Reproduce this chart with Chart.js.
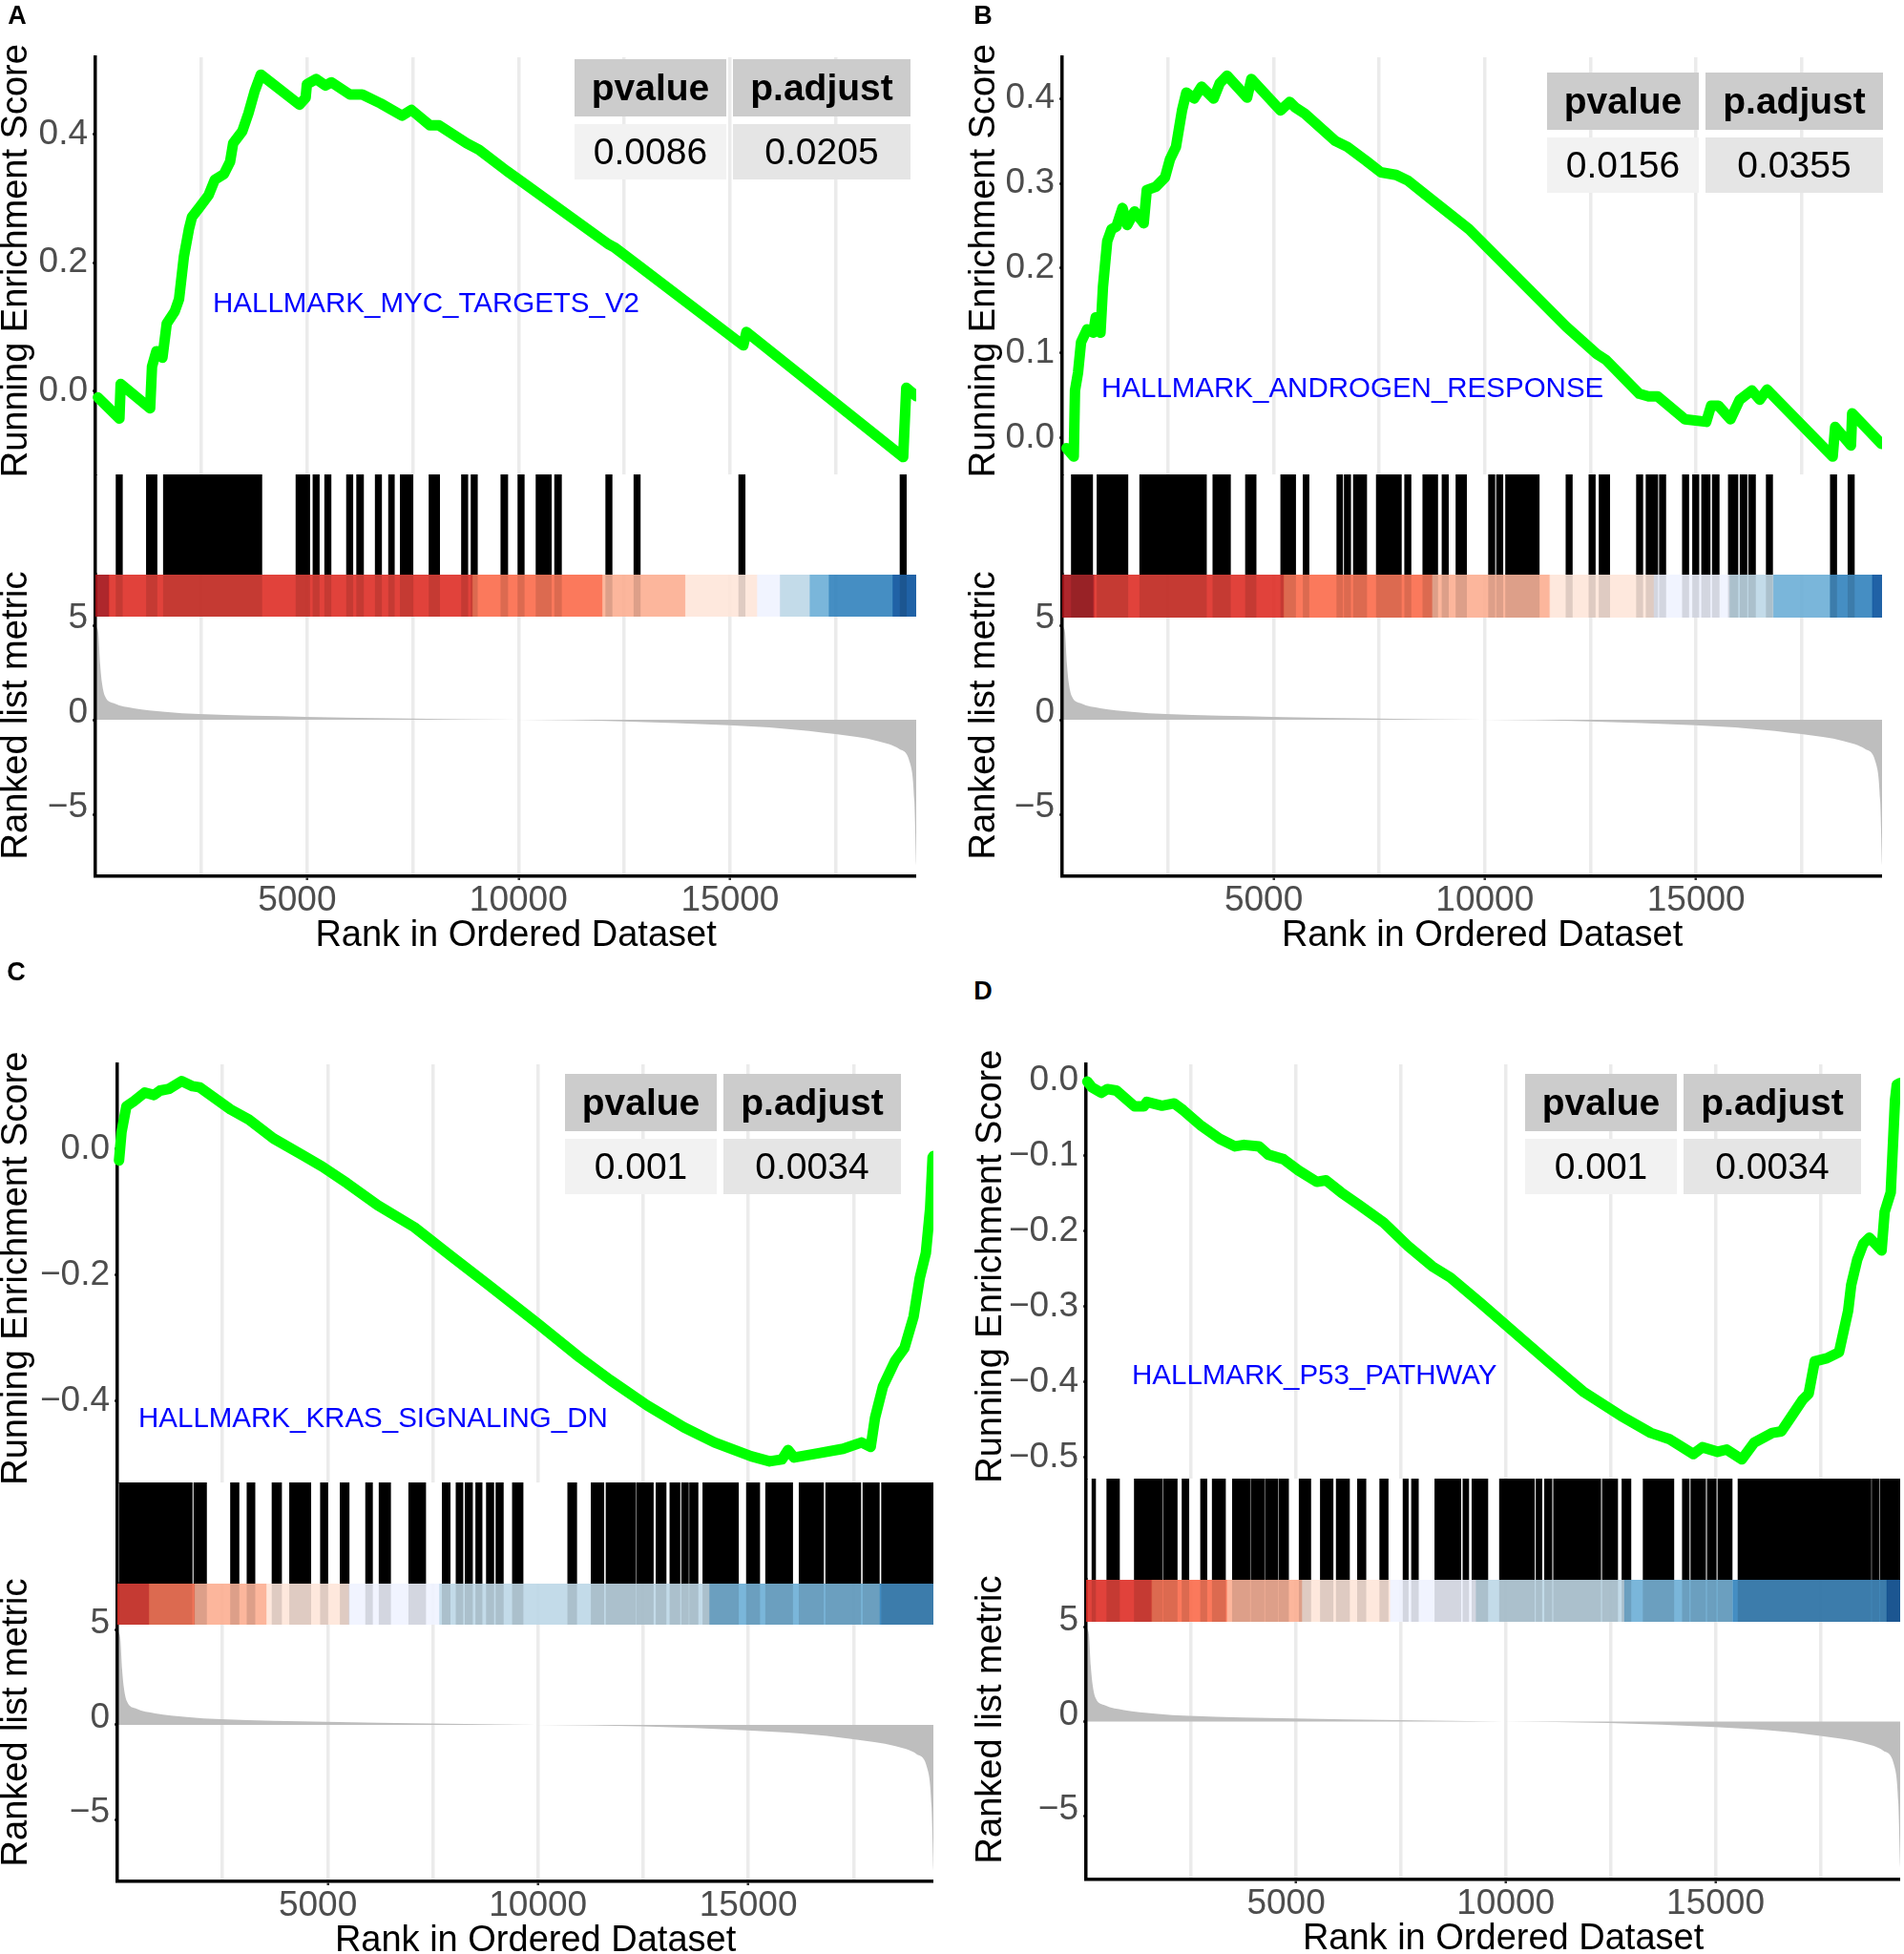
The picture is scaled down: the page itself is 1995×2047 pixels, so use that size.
<!DOCTYPE html>
<html>
<head>
<meta charset="utf-8">
<title>GSEA hallmark plots</title>
<script src="https://cdn.jsdelivr.net/npm/chart.js@4.4.1/dist/chart.umd.min.js"></script>
<style>
  html, body { margin: 0; padding: 0; background: #fff; }
  body { position: relative; width: 1995px; height: 2047px; overflow: hidden;
         font-family: 'Liberation Sans', Arial, Helvetica, sans-serif; }
  canvas { position: absolute; }
  .tag { position: absolute; font-size: 27px; font-weight: bold; color: #000;
         transform: translate(-50%, -50%); line-height: 1; }
  .geneset { position: absolute; font-size: 29.5px; color: #0000ff; white-space: nowrap;
             line-height: 1; transform: translateY(-50%); }
  .stats { position: absolute; display: grid; grid-template-columns: 159px 186px;
           grid-template-rows: 60px 58px; column-gap: 7px; row-gap: 8px; }
  .stats div { display: flex; align-items: center; justify-content: center; font-size: 39px; color: #000; }
  .stats .head { background: #cccccc; font-weight: bold; }
  .stats .v1 { background: #f2f2f2; }
  .stats .v2 { background: #e5e5e5; }
</style>
</head>
<body>
<script>
// ---- data ----
const N_GENES = 19400;
const GRID_BREAKS = [2500, 5000, 7500, 10000, 12500, 15000, 17500];
const LABEL_BREAKS = [5000, 10000, 15000];
const RANK_TICKS = [-5, 0, 5];

const panelTags = ['A', 'B', 'C', 'D'];
const geneSets = ['HALLMARK_MYC_TARGETS_V2', 'HALLMARK_ANDROGEN_RESPONSE', 'HALLMARK_KRAS_SIGNALING_DN', 'HALLMARK_P53_PATHWAY'];
const pValues = ['0.0086', '0.0156', '0.001', '0.001'];
const pAdjust = ['0.0205', '0.0355', '0.0034', '0.0034'];

// running enrichment score
const esRankA = [58, 567, 596, 1293, 1337, 1440, 1584, 1685, 1874, 1976, 2092, 2209, 2281, 2456, 2674, 2819, 3037, 3182, 3255, 3473, 3618, 3763, 3909, 4824, 4969, 4998, 5216, 5434, 5580, 6015, 6306, 6742, 7250, 7468, 7904, 8122, 8776, 9066, 9720, 10083, 12118, 12263, 12844, 15314, 15387, 19092, 19165, 19400];
const esScoreA = [-0.010, -0.043, 0.011, -0.027, 0.038, 0.062, 0.052, 0.105, 0.124, 0.143, 0.210, 0.252, 0.271, 0.286, 0.305, 0.329, 0.338, 0.357, 0.386, 0.405, 0.433, 0.467, 0.493, 0.446, 0.457, 0.478, 0.486, 0.476, 0.481, 0.462, 0.462, 0.448, 0.429, 0.438, 0.414, 0.414, 0.386, 0.376, 0.343, 0.326, 0.229, 0.224, 0.195, 0.071, 0.092, -0.103, 0.005, -0.008];
const esTicksA = [0, 0.2, 0.4];

const esRankB = [100, 273, 302, 374, 446, 590, 734, 791, 906, 964, 1065, 1166, 1281, 1425, 1540, 1712, 1928, 2000, 2216, 2432, 2547, 2691, 2835, 2936, 3123, 3295, 3583, 3727, 3900, 4375, 4475, 5166, 5382, 5526, 5742, 6461, 6749, 7181, 7540, 7900, 8188, 8764, 9627, 11210, 11930, 12650, 12866, 13657, 13873, 14089, 14736, 15240, 15355, 15527, 15815, 16031, 16319, 16506, 16678, 18232, 18290, 18664, 18693, 19383];
const esScoreB = [-0.012, -0.022, 0.056, 0.077, 0.113, 0.128, 0.124, 0.142, 0.124, 0.178, 0.232, 0.246, 0.249, 0.271, 0.251, 0.267, 0.253, 0.292, 0.296, 0.307, 0.328, 0.343, 0.386, 0.407, 0.400, 0.414, 0.400, 0.418, 0.427, 0.401, 0.423, 0.386, 0.396, 0.389, 0.382, 0.350, 0.343, 0.327, 0.313, 0.310, 0.303, 0.280, 0.246, 0.167, 0.131, 0.099, 0.092, 0.052, 0.049, 0.049, 0.022, 0.019, 0.038, 0.038, 0.022, 0.045, 0.056, 0.045, 0.057, -0.022, 0.013, -0.009, 0.029, -0.007];
const esTicksB = [0, 0.1, 0.2, 0.3, 0.4];

const esRankC = [39, 98, 214, 389, 651, 870, 1015, 1234, 1525, 1787, 1962, 2690, 3127, 3710, 4438, 4875, 5457, 6186, 7060, 7934, 8808, 9973, 10992, 11721, 12594, 13468, 14196, 15070, 15507, 15798, 15944, 16089, 16672, 17254, 17691, 17910, 18012, 18201, 18492, 18711, 18930, 19075, 19221, 19323, 19381, 19400];
const esScoreC = [-0.018, 0.027, 0.068, 0.076, 0.090, 0.086, 0.093, 0.096, 0.108, 0.100, 0.098, 0.063, 0.047, 0.017, -0.011, -0.028, -0.054, -0.089, -0.124, -0.170, -0.215, -0.276, -0.331, -0.367, -0.407, -0.442, -0.466, -0.488, -0.496, -0.493, -0.478, -0.490, -0.483, -0.476, -0.466, -0.473, -0.427, -0.377, -0.336, -0.316, -0.266, -0.205, -0.165, -0.094, -0.013, -0.011];
const esTicksC = [-0.4, -0.2, 0];

const esRankD = [29, 145, 362, 506, 723, 1158, 1375, 1447, 1809, 2098, 2315, 2749, 3183, 3545, 3762, 4124, 4341, 4703, 5065, 5499, 5716, 6077, 6512, 7090, 7669, 8248, 8682, 9406, 10129, 11000, 11865, 12734, 13457, 13891, 14470, 14687, 15049, 15266, 15628, 15917, 16351, 16568, 16785, 17075, 17219, 17364, 17653, 17942, 18160, 18232, 18377, 18522, 18666, 18957, 19030, 19175, 19276, 19320, 19400];
const esScoreD = [-0.002, -0.010, -0.017, -0.012, -0.014, -0.035, -0.035, -0.029, -0.034, -0.031, -0.040, -0.061, -0.078, -0.088, -0.086, -0.088, -0.099, -0.105, -0.120, -0.135, -0.133, -0.149, -0.166, -0.189, -0.220, -0.247, -0.262, -0.296, -0.331, -0.373, -0.414, -0.445, -0.468, -0.476, -0.496, -0.487, -0.493, -0.490, -0.503, -0.481, -0.468, -0.466, -0.448, -0.424, -0.416, -0.373, -0.369, -0.361, -0.306, -0.272, -0.238, -0.217, -0.209, -0.226, -0.175, -0.149, -0.027, -0.006, -0.004];
const esTicksD = [-0.5, -0.4, -0.3, -0.2, -0.1, 0];

// gene hits, as [first rank, last rank] runs
const hitsA = [[487, 638], [1204, 1456], [1606, 3934], [4739, 5066], [5141, 5292], [5418, 5569], [5934, 6085], [6173, 6337], [6613, 6764], [6928, 7066], [7204, 7506], [7884, 8136], [8651, 8802], [8878, 9029], [9582, 9746], [9984, 10136], [10413, 10777], [10853, 11016], [12061, 12212], [12727, 12878], [15205, 15356], [19017, 19168]];
const hitsB = [[215, 720], [822, 1555], [1833, 3413], [3564, 3982], [4336, 4588], [5170, 5524], [5700, 5840], [6497, 6636], [6674, 6826], [6889, 7205], [7432, 8026], [8102, 8254], [8532, 8886], [8987, 9139], [9316, 9568], [10087, 10238], [10276, 10428], [10491, 11288], [11920, 12071], [12463, 12615], [12703, 12956], [13588, 13739], [13815, 14094], [14131, 14283], [14675, 14827], [14915, 15067], [15130, 15332], [15383, 15547], [15762, 15990], [16040, 16204], [16242, 16406], [16659, 16811], [18176, 18328], [18593, 18745]];
const hitsC = [[47, 1779], [1817, 2120], [2689, 2892], [3081, 3271], [3676, 3904], [4093, 4599], [4827, 5004], [5295, 5510], [5901, 6066], [6221, 6496], [6926, 7330], [7722, 7912], [8051, 8216], [8267, 8443], [8519, 8671], [8772, 8949], [8999, 9176], [9391, 9645], [10706, 10921], [11263, 11566], [11617, 12325], [12350, 12742], [12806, 13046], [13135, 13375], [13413, 13577], [13603, 13805], [13918, 14766], [14955, 15271], [15411, 16055], [16207, 16789], [16839, 17674], [17724, 18116], [18167, 19400]];
const hitsD = [[139, 227], [493, 796], [1149, 1819], [1844, 2172], [2286, 2450], [2728, 2880], [3006, 3322], [3486, 3903], [3928, 4244], [4269, 4572], [4597, 4825], [5077, 5355], [5582, 5886], [5961, 6277], [6467, 6669], [6997, 7199], [7553, 7679], [7755, 7919], [8310, 8930], [8980, 9119], [9195, 9574], [9851, 10685], [10723, 10862], [10925, 11102], [11140, 12264], [12302, 12668], [12769, 12984], [13274, 14007], [14209, 14373], [14411, 14764], [14802, 15017], [15055, 15396], [15535, 18705], [18730, 18894], [18920, 19400]];

// colour band: bin edges (rank) and palette bin of each segment
const bandEdgesA = [0, 323, 8915, 11985, 13947, 15646, 16187, 16891, 17344, 18853, 19400];
const bandBinsA = [0, 1, 2, 3, 4, 5, 6, 7, 8, 9];
const bandEdgesB = [0, 758, 5245, 8760, 11540, 14005, 15800, 16836, 18176, 19175, 19400];
const bandBinsB = [0, 1, 2, 3, 4, 5, 6, 7, 8, 9];
const bandEdgesC = [0, 755, 1842, 3550, 5510, 7660, 14083, 18130, 19400];
const bandBinsC = [1, 2, 3, 4, 5, 6, 7, 8];
const bandEdgesD = [0, 1566, 3360, 5153, 7250, 9296, 12832, 15421, 19084, 19400];
const bandBinsD = [1, 2, 3, 4, 5, 6, 7, 8, 9];

// ranked list metric (same ranking in every panel)
const metricRank = [1, 40, 68, 113, 158, 226, 451, 902, 1647, 2459, 4963, 7430, 9947, 12463, 14979, 16237, 17495, 18500, 19005, 19256, 19357, 19400];
const metricValue = [5.0, 4.85, 4.6, 2.9, 1.9, 1.25, 0.86, 0.61, 0.42, 0.30, 0.16, 0.07, 0.0, -0.08, -0.29, -0.46, -0.76, -1.13, -1.55, -2.31, -4.33, -7.7];

// ---- styling / layout ----
const BAND_COLORS = ['#A50F15', '#DE2D26', '#FB6A4A', '#FCAE91', '#FEE5D9', '#EFF3FF', '#BDD7E7', '#6BAED6', '#3182BD', '#08519C'];
const GREEN = '#00ff00';
const GRID = '#ebebeb';
const TICK_TEXT = '#4d4d4d';
const TITLE_OVERHANG = 30;   // room for the long y titles beyond their panels
const X_AXIS_HEIGHT = 85;
const TITLE_SIZE = 38;

const LAYOUT = [
  { left: 100, right: 960, top: 60, hitsTop: 497, bandTop: 602, bandBottom: 646, axisY: 918, titleX: 18,
    esMin: -0.130, esMax: 0.520, rankMin: -8.28, rankMax: 7.68, tag: [18, 16], label: [223, 317], table: [602, 62] },
  { left: 1113, right: 1972, top: 60, hitsTop: 497, bandTop: 602, bandBottom: 647, axisY: 918, titleX: 1032,
    esMin: -0.043, esMax: 0.4486, rankMin: -8.28, rankMax: 7.68, tag: [1030, 16], label: [1154, 406], table: [1621, 76] },
  { left: 123, right: 978, top: 1115, hitsTop: 1553, bandTop: 1659, bandBottom: 1702, axisY: 1971, titleX: 18,
    esMin: -0.5295, esMax: 0.1347, rankMin: -8.28, rankMax: 7.47, tag: [17, 1018], label: [145, 1485], table: [592, 1125] },
  { left: 1138, right: 1991, top: 1115, hitsTop: 1549, bandTop: 1655, bandBottom: 1699, axisY: 1969, titleX: 1039,
    esMin: -0.5286, esMax: 0.0208, rankMin: -8.36, rankMax: 7.5, tag: [1030, 1038], label: [1186, 1440], table: [1598, 1125] }
];

const PANELS = [
  { rank: esRankA, score: esScoreA, ticks: esTicksA, hits: hitsA, edges: bandEdgesA, bins: bandBinsA },
  { rank: esRankB, score: esScoreB, ticks: esTicksB, hits: hitsB, edges: bandEdgesB, bins: bandBinsB },
  { rank: esRankC, score: esScoreC, ticks: esTicksC, hits: hitsC, edges: bandEdgesC, bins: bandBinsC },
  { rank: esRankD, score: esScoreD, ticks: esTicksD, hits: hitsD, edges: bandEdgesD, bins: bandBinsD }
];

Chart.defaults.font.family = "'Liberation Sans', Arial, Helvetica, sans-serif";

function withAlpha(hex, a) {
  const n = parseInt(hex.slice(1), 16);
  return `rgba(${n >> 16},${(n >> 8) & 255},${n & 255},${a})`;
}

function minus(v, digits) {
  if (Math.abs(v) < 1e-9) return (0).toFixed(digits);
  return (v < 0 ? '\u2212' : '') + Math.abs(v).toFixed(digits);
}

// R pads the shorter break label, which pulls it a little to the left
function rankLabel(v) {
  if (!LABEL_BREAKS.includes(v)) return '';
  return v < 10000 ? v + '  ' : String(v);
}

function gridTicks(scale) {
  scale.ticks = GRID_BREAKS.map(v => ({ value: v }));
}

// fixed y-axis width, and no extra room reserved for the end labels
function fixedWidth(w) {
  return s => {
    s.width = w;
    s.paddingTop = 0;
    s.paddingBottom = 0;
  };
}

function placeCanvas(x, y, w, h) {
  const c = document.createElement('canvas');
  c.width = Math.round(w);
  c.height = Math.round(h);
  c.style.left = x + 'px';
  c.style.top = y + 'px';
  c.style.width = Math.round(w) + 'px';
  c.style.height = Math.round(h) + 'px';
  document.body.appendChild(c);
  return c;
}

function baseOptions(padding) {
  return {
    responsive: false,
    animation: false,
    events: [],
    layout: { padding: padding || 0 },
    plugins: { legend: { display: false }, tooltip: { enabled: false } }
  };
}

function yTitle(text) {
  return { display: true, text: text, color: '#000', font: { size: TITLE_SIZE }, padding: 0 };
}

function drawPanel(p, box, idx) {
  const x0 = Math.round(box.titleX - 23);
  const axisW = box.left - x0;
  const fullW = box.right - x0;

  // running enrichment score
  const esCanvas = placeCanvas(x0, box.top - TITLE_OVERHANG, fullW, box.hitsTop - box.top + 2 * TITLE_OVERHANG);
  new Chart(esCanvas, {
    type: 'line',
    data: {
      datasets: [{
        data: p.rank.map((x, k) => ({ x: x, y: p.score[k] })),
        borderColor: GREEN,
        borderWidth: 11,
        borderJoinStyle: 'round',
        borderCapStyle: 'round',
        pointRadius: 0,
        tension: 0,
        clip: false
      }]
    },
    options: Object.assign(baseOptions({ top: TITLE_OVERHANG, bottom: TITLE_OVERHANG }), {
      scales: {
        x: {
          type: 'linear', min: 0, max: N_GENES,
          afterBuildTicks: gridTicks,
          afterFit: s => { s.height = 0; s.paddingLeft = 0; s.paddingRight = 0; },
          ticks: { display: false },
          grid: { color: GRID, lineWidth: 3.5, drawTicks: false },
          border: { display: false }
        },
        y: {
          min: box.esMin, max: box.esMax,
          afterBuildTicks: s => { s.ticks = p.ticks.map(v => ({ value: v })); },
          afterFit: fixedWidth(axisW),
          ticks: { color: TICK_TEXT, font: { size: 37 }, padding: 5, callback: v => minus(v, 1) },
          grid: { drawOnChartArea: false, tickLength: 3, tickWidth: 2.5, tickColor: '#333' },
          border: { color: '#000', width: 3.5 },
          title: yTitle(' Running Enrichment Score')
        }
      }
    })
  });

  // hit marks
  const hitCanvas = placeCanvas(x0, box.hitsTop, fullW, box.bandTop - box.hitsTop);
  new Chart(hitCanvas, {
    type: 'bar',
    data: {
      labels: ['hit'],
      datasets: [{
        data: p.hits.map(h => ({ x: h, y: 'hit' })),
        backgroundColor: '#000',
        borderWidth: 0,
        barPercentage: 1,
        categoryPercentage: 1
      }]
    },
    options: Object.assign(baseOptions(), {
      indexAxis: 'y',
      scales: {
        x: { type: 'linear', min: 0, max: N_GENES, display: false },
        y: {
          afterFit: fixedWidth(axisW),
          ticks: { display: false },
          grid: { display: false },
          border: { color: '#000', width: 3.5 }
        }
      }
    })
  });

  // ranked list metric (its box starts at the colour band)
  const rankCanvas = placeCanvas(x0, box.bandTop - TITLE_OVERHANG, fullW,
    box.axisY - box.bandTop + X_AXIS_HEIGHT + TITLE_OVERHANG);
  new Chart(rankCanvas, {
    type: 'line',
    data: {
      datasets: [{
        data: metricRank.map((x, k) => ({ x: x, y: metricValue[k] })),
        fill: 'origin',
        backgroundColor: '#bebebe',
        borderColor: '#bebebe',
        borderWidth: 0,
        pointRadius: 0,
        cubicInterpolationMode: 'monotone'
      }]
    },
    options: Object.assign(baseOptions({ top: TITLE_OVERHANG }), {
      scales: {
        x: {
          type: 'linear', min: 0, max: N_GENES,
          afterBuildTicks: gridTicks,
          afterFit: s => { s.height = X_AXIS_HEIGHT; s.paddingLeft = 0; s.paddingRight = 0; },
          ticks: {
            autoSkip: false, maxRotation: 0, padding: 0, color: TICK_TEXT, font: { size: 37 },
            callback: rankLabel
          },
          grid: {
            color: GRID, lineWidth: 3.5, tickLength: 4, tickWidth: 2.5,
            tickColor: ctx => (ctx.tick && LABEL_BREAKS.includes(ctx.tick.value) ? '#333' : 'rgba(0,0,0,0)')
          },
          border: { color: '#000', width: 3.5, z: 1 },
          title: { display: true, text: '  Rank in Ordered Dataset', color: '#000', font: { size: TITLE_SIZE }, padding: 0 }
        },
        y: {
          min: box.rankMin, max: box.rankMax,
          afterBuildTicks: s => { s.ticks = RANK_TICKS.map(v => ({ value: v })); },
          afterFit: fixedWidth(axisW),
          ticks: { color: TICK_TEXT, font: { size: 37 }, padding: 5, labelOffset: -7, callback: v => minus(v, 0) },
          grid: { drawOnChartArea: false, tickLength: 3, tickWidth: 2.5, tickColor: '#333' },
          border: { color: '#000', width: 3.5, z: 1 },
          title: yTitle('  Ranked list metric')
        }
      }
    })
  });

  // colour band, laid over the top of the ranked panel
  const bandSegments = p.bins.map((b, k) => ({ x: [p.edges[k], p.edges[k + 1]], y: 'band' }));
  const bandCanvas = placeCanvas(x0, box.bandTop, fullW, box.bandBottom - box.bandTop);
  new Chart(bandCanvas, {
    type: 'bar',
    data: {
      labels: ['band'],
      datasets: [
        {
          data: p.hits.map(h => ({ x: h, y: 'band' })),
          backgroundColor: 'rgba(0,0,0,0.12)',
          borderWidth: 0, barPercentage: 1, categoryPercentage: 1, grouped: false, order: 0
        },
        {
          data: bandSegments,
          backgroundColor: p.bins.map(b => withAlpha(BAND_COLORS[b], 0.9)),
          borderWidth: 0, barPercentage: 1, categoryPercentage: 1, grouped: false, order: 1
        }
      ]
    },
    options: Object.assign(baseOptions(), {
      indexAxis: 'y',
      scales: {
        x: { type: 'linear', min: 0, max: N_GENES, display: false },
        y: {
          afterFit: fixedWidth(axisW),
          ticks: { display: false },
          grid: { display: false },
          border: { color: '#000', width: 3.5 }
        }
      }
    })
  });

  // text: panel tag, gene set name, p-value table
  const tag = document.createElement('div');
  tag.className = 'tag';
  tag.textContent = panelTags[idx];
  tag.style.left = box.tag[0] + 'px';
  tag.style.top = box.tag[1] + 'px';
  document.body.appendChild(tag);

  const gs = document.createElement('div');
  gs.className = 'geneset';
  gs.textContent = geneSets[idx];
  gs.style.left = box.label[0] + 'px';
  gs.style.top = box.label[1] + 'px';
  document.body.appendChild(gs);

  const tbl = document.createElement('div');
  tbl.className = 'stats';
  tbl.style.left = box.table[0] + 'px';
  tbl.style.top = box.table[1] + 'px';
  [['head', 'pvalue'], ['head', 'p.adjust'], ['v1', pValues[idx]], ['v2', pAdjust[idx]]].forEach(([cls, txt]) => {
    const cell = document.createElement('div');
    cell.className = cls;
    cell.textContent = txt;
    tbl.appendChild(cell);
  });
  document.body.appendChild(tbl);
}

PANELS.forEach((p, i) => drawPanel(p, LAYOUT[i], i));
</script>
</body>
</html>
